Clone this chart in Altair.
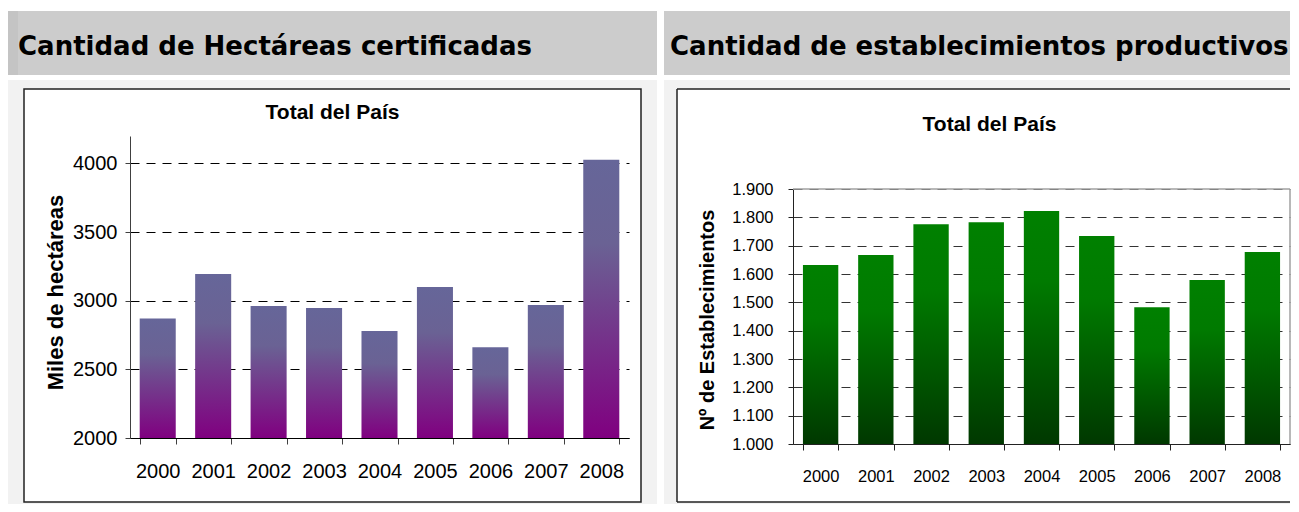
import altair as alt
import pandas as pd

# ---- data ----
years = ["2000", "2001", "2002", "2003", "2004", "2005", "2006", "2007", "2008"]
hectareas = [2871, 3195, 2961, 2947, 2779, 3100, 2662, 2969, 4027]
establecimientos = [1632, 1667, 1776, 1783, 1822, 1734, 1483, 1579, 1678]
y_ticks_left = [2000, 2500, 3000, 3500, 4000]
y_ticks_right = [1000, 1100, 1200, 1300, 1400, 1500, 1600, 1700, 1800, 1900]

header_left = "Cantidad de Hectáreas certificadas"
header_right = "Cantidad de establecimientos productivos"
chart_title = "Total del País"
ytitle_left = "Miles de hectáreas"
ytitle_right = "Nº de Establecimientos"

FONT = "Liberation Sans"
HFONT = "DejaVu Sans"
dummy = alt.Data(values=[{"k": 0}])
GRAY_AREA = "#f2f2f2"
BAND = "#cccccc"
TOP = 11  # page y of the panel origin (top of the header band)


class Panel:
    """Helpers that take page coordinates and convert them to panel coordinates."""

    def __init__(self, ox):
        self.ox = ox

    def X(self, p):
        return p - self.ox

    def Y(self, p):
        return p - TOP

    def rect(self, x, x2, y, y2, color):
        return alt.Chart(dummy).mark_rect(color=color).encode(
            x=alt.value(self.X(x)), x2=alt.value(self.X(x2)),
            y=alt.value(self.Y(y)), y2=alt.value(self.Y(y2)))

    def box(self, x, x2, y, y2, color, w):
        return alt.Chart(dummy).mark_rect(filled=False, color=color, strokeWidth=w).encode(
            x=alt.value(self.X(x)), x2=alt.value(self.X(x2)),
            y=alt.value(self.Y(y)), y2=alt.value(self.Y(y2)))

    def hrule(self, x, x2, y, color, w):
        return alt.Chart(dummy).mark_rule(color=color, strokeWidth=w).encode(
            x=alt.value(self.X(x)), x2=alt.value(self.X(x2)), y=alt.value(self.Y(y)))

    def vrule(self, x, y, y2, color, w):
        return alt.Chart(dummy).mark_rule(color=color, strokeWidth=w).encode(
            x=alt.value(self.X(x)), y=alt.value(self.Y(y)), y2=alt.value(self.Y(y2)))

    def text(self, s, x, y, font, size, align="left", baseline="alphabetic"):
        return alt.Chart(dummy).mark_text(
            text=s, font=font, fontSize=size, fontWeight="bold", color="black",
            align=align, baseline=baseline).encode(
            x=alt.value(self.X(x)), y=alt.value(self.Y(y)))


H_ALL = 504 - TOP  # common panel height

# ---------------- left panel ----------------
L = Panel(130)
WL = 499
L_BOTTOM, L_TOP = 438, 136
grad_purple = alt.LinearGradient(
    gradient="linear",
    stops=[alt.GradientStop(color="#666699", offset=0),
           alt.GradientStop(color="#6a6294", offset=0.3),
           alt.GradientStop(color="#800080", offset=1)],
    x1=0, x2=0, y1=0, y2=1)

df_l = pd.DataFrame({"year": years, "value": hectareas})
bars_l = alt.Chart(df_l).mark_bar(color=grad_purple).encode(
    x=alt.X("year:N", title=None,
            scale=alt.Scale(paddingInner=0.35, paddingOuter=0.175),
            axis=alt.Axis(labelAngle=0, labelFont=FONT, labelFontSize=20,
                          labelColor="black", labelPadding=17,
                          offset=L.Y(L_BOTTOM) - H_ALL,
                          tickBand="extent", tickSize=6, tickColor="#404040",
                          domainColor="black", grid=False)),
    y=alt.Y("value:Q",
            scale=alt.Scale(domain=[2000, 4200], nice=False, zero=False,
                            range=[L.Y(L_BOTTOM), L.Y(L_TOP)]),
            axis=alt.Axis(values=y_ticks_left, format="d", title=ytitle_left,
                          titleFont=FONT, titleFontSize=22, titleFontWeight="bold",
                          titleColor="black", titleX=L.X(55), titleY=L.Y(292),
                          titleAngle=270, titleBaseline="middle", titleAlign="center",
                          labelFont=FONT, labelFontSize=20, labelColor="black",
                          labelPadding=8, tickSize=5, tickColor="#404040",
                          domainColor="#404040", grid=True, gridColor="black",
                          gridDash=[9, 7], gridWidth=1)),
    y2=alt.datum(2000),
)

left = alt.layer(
    L.rect(8, 657, 80, 89, GRAY_AREA),
    L.rect(8, 657, 502, 504, GRAY_AREA),
    L.rect(8, 24, 89, 502, GRAY_AREA),
    L.rect(641, 657, 89, 502, GRAY_AREA),
    L.rect(8, 657, 11, 75, BAND),
    L.rect(8, 18, 11, 75, "#c4c4c4"),
    L.text(header_left, 18, 55, HFONT, 26),
    L.box(24, 641, 89, 502, "#222222", 1.5),
    L.text(chart_title, 332.5, 113, FONT, 21, align="center", baseline="middle"),
    bars_l,
).properties(width=WL, height=H_ALL)

# ---------------- right panel ----------------
R = Panel(793)
WR = 497
R_BOTTOM, R_TOP = 444, 189
grad_green = alt.LinearGradient(
    gradient="linear",
    stops=[alt.GradientStop(color="#008000", offset=0),
           alt.GradientStop(color="#007a00", offset=0.3),
           alt.GradientStop(color="#003800", offset=1)],
    x1=0, x2=0, y1=0, y2=1)

df_r = pd.DataFrame({"year": years, "value": establecimientos})
bars_r = alt.Chart(df_r).mark_bar(color=grad_green).encode(
    x=alt.X("year:N", title=None,
            scale=alt.Scale(paddingInner=0.36, paddingOuter=0.18),
            axis=alt.Axis(labelAngle=0, labelFont=FONT, labelFontSize=16.5,
                          labelColor="black", labelPadding=18,
                          offset=R.Y(R_BOTTOM) - H_ALL,
                          tickBand="extent", tickSize=6, tickColor="#222222",
                          domainColor="#222222", grid=False)),
    y=alt.Y("value:Q",
            scale=alt.Scale(domain=[1000, 1900], nice=False, zero=False,
                            range=[R.Y(R_BOTTOM), R.Y(R_TOP)]),
            axis=alt.Axis(values=y_ticks_right,
                          labelExpr="replace(format(datum.value, ','), ',', '.')",
                          title=ytitle_right,
                          titleFont=FONT, titleFontSize=20, titleFontWeight="bold",
                          titleColor="black", titleX=R.X(707), titleY=R.Y(319.5),
                          titleAngle=270, titleBaseline="middle", titleAlign="center",
                          labelFont=FONT, labelFontSize=16.5, labelColor="black",
                          labelPadding=15, tickSize=5, tickColor="#222222",
                          domainColor="#222222", grid=True, gridColor="#333333",
                          gridDash=[9, 7], gridWidth=1)),
    y2=alt.datum(1000),
)

right = alt.layer(
    R.rect(664, 1290, 80, 89, GRAY_AREA),
    R.rect(664, 1290, 502, 504, GRAY_AREA),
    R.rect(664, 677, 89, 502, GRAY_AREA),
    R.rect(664, 1290, 11, 75, BAND),
    R.text(header_right, 670, 55, HFONT, 26),
    R.vrule(677, 89, 502, "#222222", 1.5),
    R.hrule(677, 1290, 89, "#222222", 1.5),
    R.hrule(677, 1290, 502, "#222222", 1.5),
    R.text(chart_title, 989.5, 125, FONT, 21, align="center", baseline="middle"),
    bars_r,
    R.hrule(793, 1290, R_TOP, "#a0a0a0", 1.5),
    R.vrule(1290, R_TOP, R_BOTTOM, "#a0a0a0", 1.5),
).properties(width=WR, height=H_ALL)

chart = alt.hconcat(left, right, spacing=7, bounds="full").properties(
    padding={"left": 0, "top": 3, "right": 0, "bottom": 0},
    background="white",
).configure_view(strokeWidth=0)

chart.save("out.html", embed_options={"renderer": "svg", "actions": False})
